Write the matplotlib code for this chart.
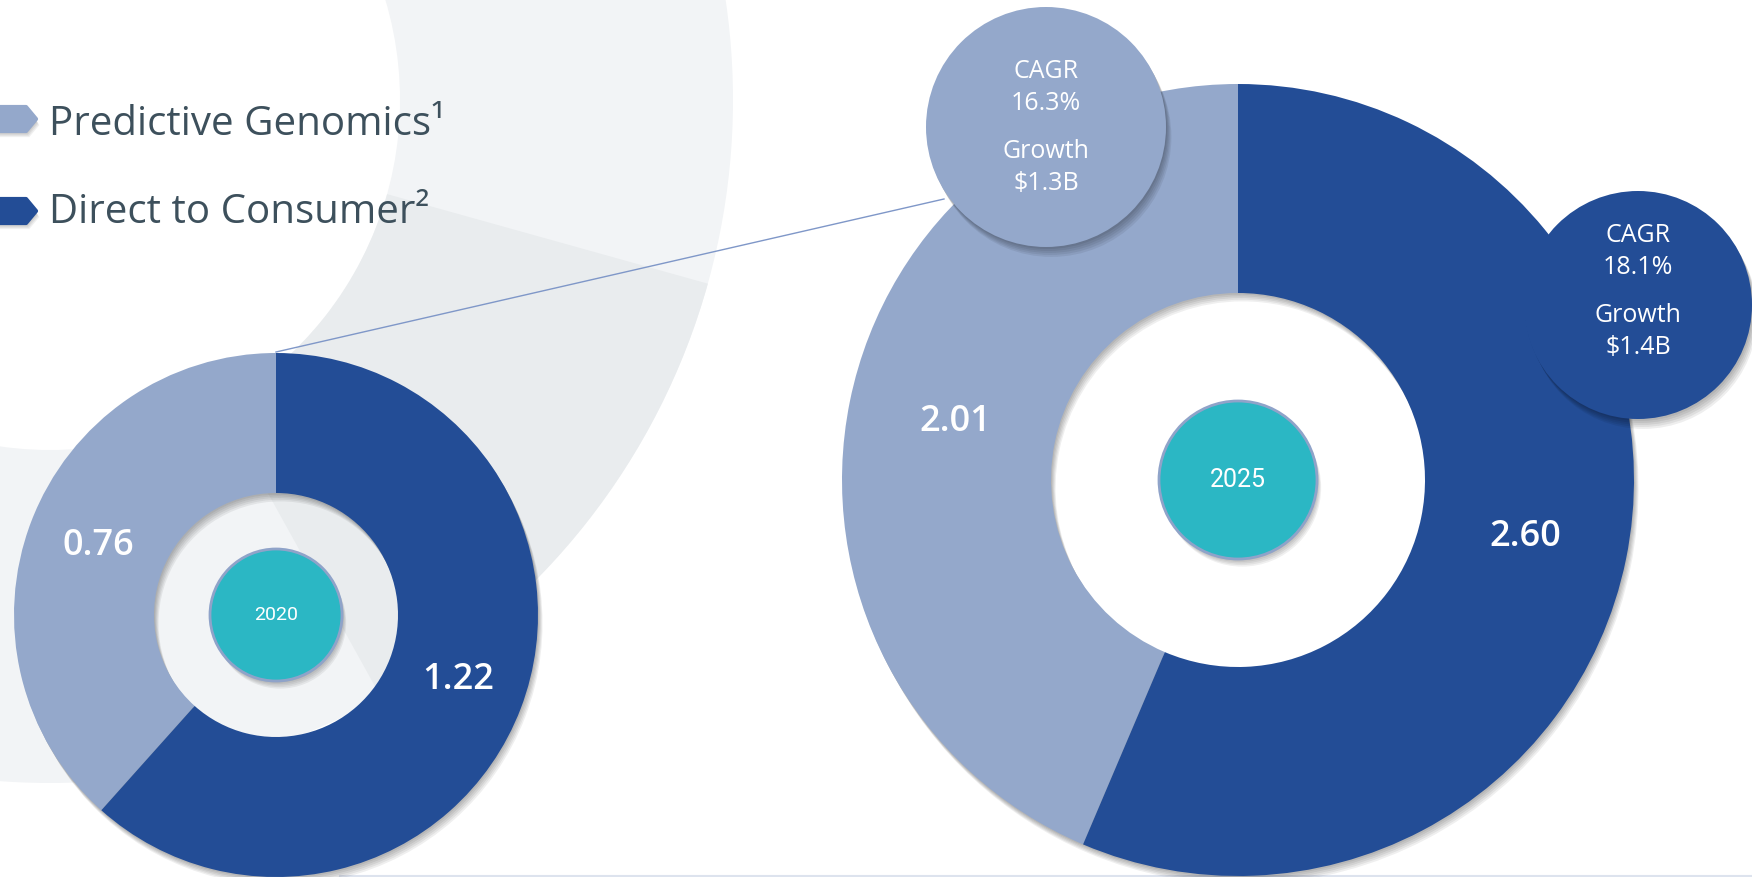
import matplotlib.pyplot as plt
from matplotlib.patches import Wedge, Circle, Polygon
import matplotlib.patheffects as pe

plt.rcParams['font.family'] = ['Open Sans', 'DejaVu Sans']

# data
segments = ["Predictive Genomics", "Direct to Consumer"]
values_2020 = [0.76, 1.22]
values_2025 = [2.01, 2.60]
years = ["2020", "2025"]
cagr = ["16.3%", "18.1%"]
growth = ["$1.3B", "$1.4B"]

light = "#94a8cb"
dark = "#234d96"
teal = "#2bb7c4"
text_col = "#3d505c"

W, H = 1752, 877
fig = plt.figure(figsize=(W / 100, H / 100), dpi=100)
ax = fig.add_axes([0, 0, 1, 1])


def yy(y):
    # image coords (y down) -> data coords (y up)
    return H - y


def soft(scale=1.0, a=1.0):
    # layered drop shadow, softer than a single offset copy
    fx = []
    for k in range(1, 6):
        fx.append(pe.SimplePatchShadow(offset=(0.6 * k * scale, -1.1 * k * scale),
                                       shadow_rgbFace="#000000", alpha=0.045 * a))
    fx.append(pe.Normal())
    return fx


# background ring
ax.add_patch(Wedge((50, yy(100)), 683, 0, 360, width=333, facecolor="#f2f4f6", edgecolor="none", zorder=0))
ax.add_patch(Wedge((50, yy(100)), 683, -61, -15.6, width=333, facecolor="#e9ecee", edgecolor="none", zorder=0))


def donut(values, cx, cy, R, r, rc, year, fs, label_pos):
    wedges, _ = ax.pie(values, colors=[light, dark], startangle=90, counterclock=True,
                       center=(cx, yy(cy)), radius=R,
                       wedgeprops=dict(width=R - r, edgecolor="none"))
    for w in wedges:
        w.set_path_effects(soft(1.1, 1.4))
        w.set_zorder(2)
    c = Circle((cx, yy(cy)), rc, facecolor=teal, edgecolor="#8fa3c9", lw=2, zorder=3)
    c.set_path_effects(soft(1.0, 1.3))
    ax.add_patch(c)
    ax.text(cx, yy(cy), year, color="white", fontsize=fs, ha="center", va="center", zorder=4,
            family=["Roboto", "DejaVu Sans"])
    for v, (lx, ly) in zip(values, label_pos):
        ax.text(lx, yy(ly), f"{v:.2f}", color="white", fontsize=26, fontweight="semibold",
                ha="center", va="center", zorder=4)


# connector line from small donut to callout
ax.plot([276, 944], [yy(352), yy(199)], color="#7f97c8", lw=1, zorder=1)

donut(values_2020, 276, 615, 262, 122, 66, years[0], 14, [(98, 546), (458, 680)])
donut(values_2025, 1238, 480, 396, 187, 79, years[1], 18, [(955, 422), (1525, 537)])

# callout bubbles
callouts = [((1046, 127), 120, light, 127), ((1638, 305), 114, dark, 291)]
for (bx, by), br, col, tm in callouts:
    c = Circle((bx, yy(by)), br, facecolor=col, edgecolor="none", zorder=5)
    c.set_path_effects(soft(1.3, 1.5))
    ax.add_patch(c)
for ((bx, by), br, col, tm), cg, gr in zip(callouts, cagr, growth):
    for txt, dy in zip(["CAGR", cg, "Growth", gr], [-56, -24, 25, 56]):
        ax.text(bx, yy(tm + dy), txt, color="white", fontsize=18, ha="center", va="center", zorder=6)

# legend
leg_y = [119, 211]
base_y = [135, 223]
sups = ["¹", "²"]
for name, sup, ly, by, col in zip(segments, sups, leg_y, base_y, [light, dark]):
    mk = Polygon([(-5, yy(ly - 12)), (26, yy(ly - 12)), (36, yy(ly)), (26, yy(ly + 12)), (-5, yy(ly + 12))],
                 closed=True, facecolor=col, edgecolor=col, lw=3, joinstyle="round", zorder=5)
    mk.set_path_effects(soft(0.8, 1.3))
    ax.add_patch(mk)
    ax.text(49, yy(by), name + sup, color=text_col, fontsize=29, ha="left", va="baseline", zorder=5)

# thin bottom rule
ax.plot([340, W], [yy(875.5), yy(875.5)], color="#dde3ee", lw=1.5, zorder=1)

ax.set_xlim(0, W)
ax.set_ylim(0, H)
ax.set_aspect("equal")
ax.axis("off")
fig.savefig("out.png", dpi=100, facecolor="white")
